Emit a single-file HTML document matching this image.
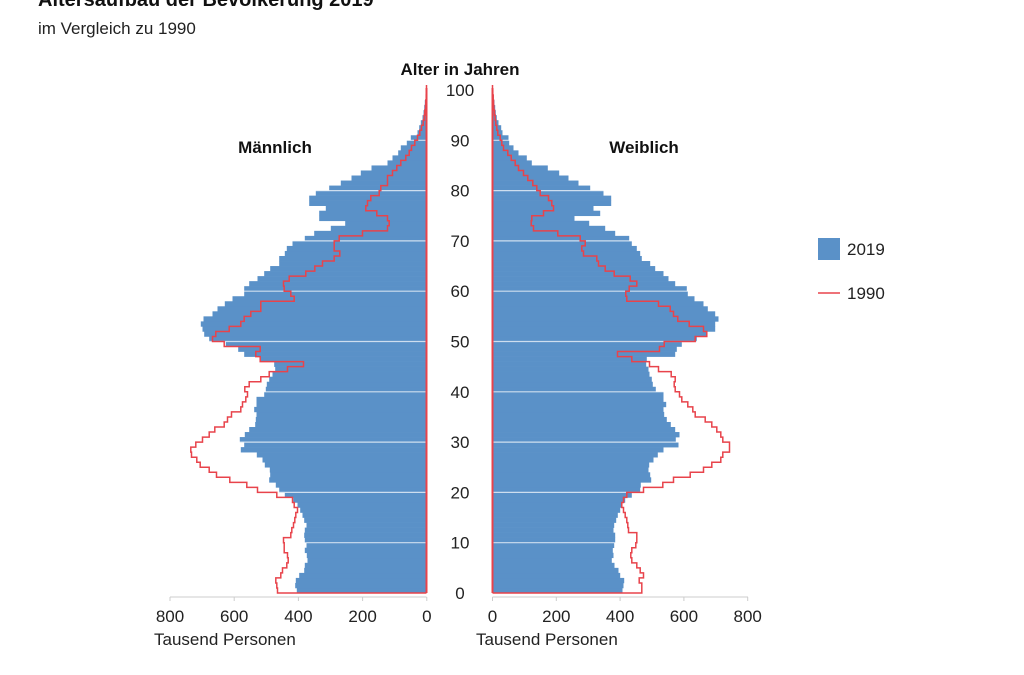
<!DOCTYPE html>
<html><head><meta charset="utf-8"><style>
body{margin:0;background:#fff;width:1024px;height:675px;overflow:hidden;font-family:"Liberation Sans",sans-serif}
svg{position:absolute;left:0;top:0}
</style></head><body>
<svg id="s" width="1024" height="675" xmlns="http://www.w3.org/2000/svg" font-family="Liberation Sans, sans-serif">
<text x="38" y="6" font-size="20" font-weight="bold" fill="#111">Altersaufbau der Bevölkerung 2019</text>
<text x="38" y="34" font-size="17" fill="#222">im Vergleich zu 1990</text>
<text x="460" y="75" font-size="17" font-weight="bold" text-anchor="middle" fill="#111">Alter in Jahren</text>
<text x="275" y="153" font-size="17" font-weight="bold" text-anchor="middle" fill="#111">Männlich</text>
<text x="644" y="153" font-size="17" font-weight="bold" text-anchor="middle" fill="#111">Weiblich</text>
<rect x="818" y="238" width="22" height="22" fill="#5a91c8"/>
<text x="847" y="255" font-size="17" fill="#222">2019</text>
<line x1="818" y1="293" x2="840" y2="293" stroke="#e8434b" stroke-width="1.5"/>
<text x="847" y="299" font-size="17" fill="#222">1990</text>
<g id="g"></g>
</svg>
<script>
var mB=[408,403,405,415,430,432,440,438,432,437,432,430,432,437,430,425,418,410,397,372,355,345,325,328,327,312,305,288,240,250,237,252,265,283,285,287,280,287,287,310,315,318,325,335,343,340,300,250,232,195,145,130,125,120,128,155,170,192,215,250,250,265,290,310,328,355,355,372,378,395,432,460,510,553,475,475,495,445,445,465,505,540,572,600,632,680,695,712,720,738,750,770,775,780,785,788,790,792,794,795,797];
var mR=[350,348,345,360,365,378,382,380,370,370,368,390,393,398,402,405,410,400,395,348,290,258,207,167,145,118,108,92,90,105,125,145,162,190,200,212,240,245,255,260,252,265,300,325,380,428,298,285,298,190,155,165,205,240,250,270,300,300,400,390,370,368,385,435,462,485,520,537,520,520,535,605,680,685,680,648,615,620,630,655,660,680,680,695,708,720,735,745,752,762,770,777,782,787,790,792,794,795,796,797,797];
var fB=[412,415,417,405,400,388,380,385,383,387,390,390,385,387,393,398,405,412,420,440,465,467,498,495,490,492,505,518,535,580,572,583,570,557,545,537,535,543,535,535,512,503,500,493,490,483,485,570,575,590,635,665,690,690,700,690,668,655,628,608,605,570,550,535,510,495,470,465,455,440,432,390,360,312,268,345,325,378,378,355,315,280,250,222,188,140,125,100,85,72,70,52,48,40,35,32,30,28,26,25,23];
var fR=[470,470,462,475,465,455,440,437,440,452,455,455,430,428,425,420,415,410,415,425,475,533,565,615,655,680,707,713,733,733,713,707,695,680,660,630,623,608,590,583,570,567,570,558,520,493,440,397,523,537,630,665,655,612,578,565,555,520,425,422,432,455,435,387,360,340,335,295,290,300,285,218,145,138,140,175,205,200,190,165,155,143,128,115,100,90,78,68,55,50,45,38,35,32,30,28,26,25,24,23,22];
var L=426.5,R=492.5,Y0=593,H=5.03,o='';
function y(a){return Y0-H*a}
var lp='M'+L+' '+Y0,rp='M'+R+' '+Y0;
for(var a=0;a<=100;a++){
 var wl=(797-mB[a])/3,wr=(fB[a]-22)/3;
 o+='<rect x="'+(L-wl).toFixed(1)+'" y="'+y(a+1).toFixed(2)+'" width="'+wl.toFixed(1)+'" height="'+(H+0.3)+'" fill="#5a91c8"/>';
 o+='<rect x="'+R+'" y="'+y(a+1).toFixed(2)+'" width="'+wr.toFixed(1)+'" height="'+(H+0.3)+'" fill="#5a91c8"/>';
 var xl=(L-(797-mR[a])/3).toFixed(1),xr=(R+(fR[a]-22)/3).toFixed(1);
 lp+=' H'+xl+' V'+y(a+1).toFixed(2);rp+=' H'+xr+' V'+y(a+1).toFixed(2);
}
lp+=' H'+L;rp+=' H'+R;
for(var k=10;k<=90;k+=10){o+='<line x1="'+(L-260)+'" x2="'+L+'" y1="'+y(k)+'" y2="'+y(k)+'" stroke="#fff" stroke-opacity="0.7" stroke-width="1.2"/>';
o+='<line x1="'+R+'" x2="'+(R+260)+'" y1="'+y(k)+'" y2="'+y(k)+'" stroke="#fff" stroke-opacity="0.7" stroke-width="1.2"/>';}
o+='<path d="'+lp+'" fill="none" stroke="#e8434b" stroke-width="1.5"/><path d="'+rp+'" fill="none" stroke="#e8434b" stroke-width="1.5"/>';
o+='<line x1="'+L+'" x2="'+L+'" y1="88" y2="'+Y0+'" stroke="#e8434b" stroke-width="2"/><line x1="'+R+'" x2="'+R+'" y1="88" y2="'+Y0+'" stroke="#e8434b" stroke-width="2"/>';
for(var k=0;k<=100;k+=10)o+='<text x="460" y="'+(y(k)+6)+'" font-size="17" text-anchor="middle" fill="#222">'+k+'</text>';
o+='<line x1="170" x2="'+L+'" y1="597" y2="597" stroke="#ccc"/><line x1="'+R+'" x2="748" y1="597" y2="597" stroke="#ccc"/>';
var lb=['800','600','400','200','0'];
for(var i=0;i<5;i++){var xl=170+i*64.2,xr=R+i*63.8;
 o+='<line x1="'+xl+'" x2="'+xl+'" y1="597" y2="601" stroke="#ccc"/><line x1="'+xr+'" x2="'+xr+'" y1="597" y2="601" stroke="#ccc"/>';
 o+='<text x="'+xl+'" y="622" font-size="17" text-anchor="middle" fill="#222">'+lb[i]+'</text>';
 o+='<text x="'+xr+'" y="622" font-size="17" text-anchor="middle" fill="#222">'+lb[4-i]+'</text>';}
o+='<text x="154" y="645" font-size="17" fill="#222">Tausend Personen</text><text x="476" y="645" font-size="17" fill="#222">Tausend Personen</text>';
document.getElementById('g').innerHTML=o;
</script>
</body></html>
